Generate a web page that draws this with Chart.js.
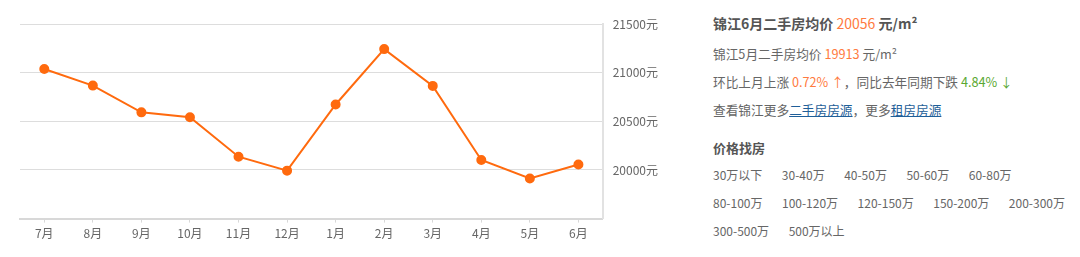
<!DOCTYPE html>
<html lang="zh">
<head>
<meta charset="UTF-8">
<title>锦江二手房均价</title>
<script src="https://cdn.jsdelivr.net/npm/chart.js"></script>
<style>
    body { margin: 0; padding: 0; background: #fff; width: 1080px; height: 257px; overflow: hidden; font-family: "Noto Sans CJK SC", "Noto Sans", sans-serif; }
    .chart-box { position: absolute; left: 0; top: 0; width: 668px; height: 257px; }
    .info { position: absolute; left: 713px; top: 0; width: 367px; color: #666; font-size: 12.7px; }
    .info .row { position: absolute; left: 0; white-space: nowrap; }
    .title { font-weight: bold; font-size: 14px; color: #555; }
    .orange { color: #ff7a40; }
    .green { color: #5aa832; }
    .info a { color: #1f5f99; text-decoration: underline; }
    .prices { font-size: 12px; }
    .prices span { margin-right: 19.5px; }
</style>
</head>
<body>
<div class="chart-box"><canvas id="priceChart"></canvas></div>

<div class="info">
    <div class="row title" style="top:13px">锦江6月二手房均价 <span class="orange" style="font-weight:normal">20056</span> 元/m²</div>
    <div class="row" style="top:44px">锦江5月二手房均价 <span class="orange">19913</span> 元/m²</div>
    <div class="row" style="top:72px">环比上月上涨 <span class="orange">0.72% ↑</span>，同比去年同期下跌 <span class="green">4.84% ↓</span></div>
    <div class="row" style="top:100px">查看锦江更多<a>二手房房源</a>，更多<a>租房房源</a></div>
    <div class="row title" style="top:138px;font-size:13px">价格找房</div>
    <div class="row prices" style="top:166px"></div>
    <div class="row prices" style="top:194px"></div>
    <div class="row prices" style="top:222px"></div>
</div>

<script>
const months = ['7月', '8月', '9月', '10月', '11月', '12月', '1月', '2月', '3月', '4月', '5月', '6月'];
const avgPrice = [21038, 20867, 20592, 20541, 20136, 19993, 20673, 21242, 20864, 20102, 19913, 20056];
const yTicks = [19500, 20000, 20500, 21000, 21500];
const priceRows = [
    ['30万以下', '30-40万', '40-50万', '50-60万', '60-80万'],
    ['80-100万', '100-120万', '120-150万', '150-200万', '200-300万'],
    ['300-500万', '500万以上']
];

// price filter links
const rowEls = document.querySelectorAll('.prices');
priceRows.forEach((items, i) => {
    rowEls[i].innerHTML = items.map(t => '<span>' + t + '</span>').join('');
});

const ctx = document.getElementById('priceChart').getContext('2d');
new Chart(ctx, {
    type: 'line',
    data: {
        labels: months,
        datasets: [{
            data: avgPrice,
            borderColor: '#ff6a0e',
            backgroundColor: '#ff6a0e',
            borderWidth: 2,
            pointRadius: 4,
            pointHoverRadius: 4,
            tension: 0
        }]
    },
    options: {
        responsive: true,
        maintainAspectRatio: false,
        animation: false,
        layout: { padding: { left: 20, top: 24, right: 0, bottom: 12 } },
        plugins: { legend: { display: false }, tooltip: { enabled: false } },
        scales: {
            x: {
                offset: true,
                border: { color: '#d8d8d8', width: 2 },
                grid: { display: true, drawOnChartArea: false, offset: false, tickLength: 4, color: '#d8d8d8' },
                ticks: { color: '#666', font: { size: 12, family: 'Noto Sans CJK SC' }, padding: 4, maxRotation: 0 }
            },
            y: {
                position: 'right',
                min: yTicks[0],
                max: yTicks[yTicks.length - 1],
                afterBuildTicks: axis => { axis.ticks = yTicks.map(v => ({ value: v })); },
                border: { color: '#e2e2e2', width: 2 },
                grid: { color: '#dddddd', drawTicks: false },
                ticks: {
                    color: '#666',
                    padding: 10,
                    font: { size: 12, family: 'Noto Sans CJK SC' },
                    callback: v => v === yTicks[0] ? '' : v + '元'
                }
            }
        }
    }
});
</script>
</body>
</html>
